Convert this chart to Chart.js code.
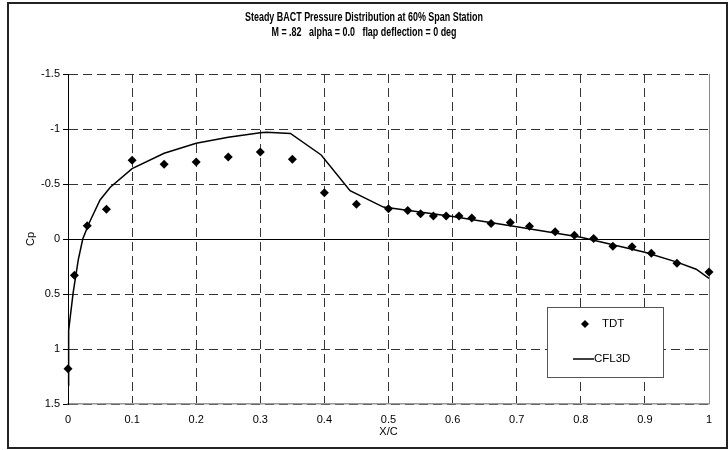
<!DOCTYPE html>
<html>
<head>
<meta charset="utf-8">
<script src="https://cdn.jsdelivr.net/npm/chart.js@4.4.1/dist/chart.umd.min.js"></script>
<style>
  html, body { margin: 0; padding: 0; background: #fff; }
  #wrap { position: relative; width: 728px; height: 450px; }
</style>
</head>
<body>
<div id="wrap"><canvas id="c" width="728" height="450"></canvas></div>
<script>
// ---- data ----
const titleLines = ['Steady BACT Pressure Distribution at 60% Span Station',
                    'M = .82   alpha = 0.0   flap deflection = 0 deg'];
const xAxisTitle = 'X/C';
const yAxisTitle = 'Cp';
const xTickLabels = ['0', '0.1', '0.2', '0.3', '0.4', '0.5', '0.6', '0.7', '0.8', '0.9', '1'];
const yTickLabels = ['-1.5', '-1', '-0.5', '0', '0.5', '1', '1.5'];

const tdtLabel = 'TDT';
const tdtX  = [0, 0.01, 0.03, 0.06, 0.10, 0.15, 0.20, 0.25, 0.30, 0.35, 0.40, 0.45, 0.50, 0.53, 0.55, 0.57, 0.59, 0.61, 0.63, 0.66, 0.69, 0.72, 0.76, 0.79, 0.82, 0.85, 0.88, 0.91, 0.95, 1.00];
const tdtCp = [1.18, 0.33, -0.12, -0.27, -0.715, -0.68, -0.70, -0.745, -0.79, -0.725, -0.42, -0.315, -0.275, -0.26, -0.23, -0.21, -0.21, -0.21, -0.19, -0.14, -0.15, -0.115, -0.065, -0.035, -0.005, 0.065, 0.07, 0.13, 0.22, 0.30];

const cflLabel = 'CFL3D';
const cflX  = [0, 0.001, 0.008, 0.016, 0.023, 0.033, 0.05, 0.066, 0.10, 0.15, 0.20, 0.25, 0.30, 0.31, 0.347, 0.395, 0.44, 0.492, 0.60, 0.70, 0.80, 0.90, 0.95, 0.98, 1.00];
const cflCp = [1.33, 0.83, 0.49, 0.19, 0.0, -0.145, -0.355, -0.47, -0.64, -0.78, -0.87, -0.925, -0.965, -0.97, -0.96, -0.764, -0.44, -0.29, -0.205, -0.112, -0.015, 0.12, 0.21, 0.275, 0.357];

// ---- build ----
const tdtPts = tdtX.map((x, i) => ({ x: x, y: tdtCp[i] }));
const cflPts = cflX.map((x, i) => ({ x: x, y: cflCp[i] }));

const FONT = "'Liberation Sans', Arial, sans-serif";

const frame = {
  id: 'frame',
  beforeDraw(chart) {
    const ctx = chart.ctx;
    ctx.save();
    ctx.fillStyle = '#fff';
    ctx.fillRect(0, 0, chart.width, chart.height);
    ctx.strokeStyle = '#222';
    ctx.lineWidth = 2;
    ctx.strokeRect(8, 3, 719, 445);
    ctx.restore();
  }
};

// condensed bold title (emulates the narrow face of the original)
const narrowTitle = {
  id: 'narrowTitle',
  afterDraw(chart) {
    const ctx = chart.ctx;
    const cx = chart.width / 2;
    ctx.save();
    ctx.fillStyle = '#000';
    ctx.font = 'bold 12px ' + FONT;
    ctx.textAlign = 'center';
    ctx.textBaseline = 'middle';
    titleLines.forEach((t, i) => {
      ctx.save();
      ctx.translate(cx, 17.5 + i * 15.5);
      ctx.scale(0.745, 1);
      ctx.fillText(t, 0, 0);
      ctx.restore();
    });
    ctx.restore();
  }
};

const zeroLine = {
  id: 'zeroLine',
  beforeDatasetsDraw(chart) {
    const ctx = chart.ctx, a = chart.chartArea;
    const y = Math.round(chart.scales.y.getPixelForValue(0)) + 0.5;
    const xr = Math.round(chart.scales.x.getPixelForValue(1)) + 0.5;
    ctx.save();
    ctx.strokeStyle = '#000';
    ctx.lineWidth = 1;
    ctx.beginPath();
    ctx.moveTo(a.left, y);
    ctx.lineTo(a.right, y);
    ctx.stroke();
    ctx.strokeStyle = '#8a8a8a';
    ctx.beginPath();
    ctx.moveTo(xr, a.top);
    ctx.lineTo(xr, a.bottom);
    ctx.stroke();
    ctx.restore();
  }
};

const legendBox = {
  id: 'legendBox',
  afterDraw(chart) {
    const ctx = chart.ctx;
    const bx = 547, by = 307, bw = 116, bh = 70;
    ctx.save();
    ctx.fillStyle = '#fff';
    ctx.fillRect(bx, by, bw, bh);
    ctx.strokeStyle = '#555';
    ctx.lineWidth = 1;
    ctx.strokeRect(bx + 0.5, by + 0.5, bw, bh);
    const dx = 585, dy = 324, r = 4;
    ctx.fillStyle = '#000';
    ctx.beginPath();
    ctx.moveTo(dx, dy - r); ctx.lineTo(dx + r, dy); ctx.lineTo(dx, dy + r); ctx.lineTo(dx - r, dy);
    ctx.closePath(); ctx.fill();
    ctx.strokeStyle = '#000';
    ctx.lineWidth = 1.5;
    ctx.beginPath(); ctx.moveTo(573, 359); ctx.lineTo(594, 359); ctx.stroke();
    ctx.font = '11.5px ' + FONT;
    ctx.textBaseline = 'middle';
    ctx.textAlign = 'left';
    ctx.fillText(chart.data.datasets[0].label, 602, 324);
    ctx.fillText(chart.data.datasets[1].label, 594, 359);
    ctx.restore();
  }
};

new Chart(document.getElementById('c'), {
  type: 'scatter',
  data: {
    datasets: [
      {
        label: tdtLabel,
        data: tdtPts,
        showLine: false,
        clip: false,
        pointStyle: 'rectRot',
        pointRadius: 4.5,
        pointBackgroundColor: '#000',
        pointBorderColor: '#000',
        pointBorderWidth: 0,
        order: 1
      },
      {
        label: cflLabel,
        data: cflPts,
        showLine: true,
        clip: false,
        borderColor: '#000',
        borderWidth: 1.5,
        pointRadius: 0,
        tension: 0,
        order: 2
      }
    ]
  },
  options: {
    responsive: false,
    animation: false,
    devicePixelRatio: 1,
    layout: { padding: { left: 0, right: 19, top: 74, bottom: 0 } },
    plugins: {
      legend: { display: false },
      tooltip: { enabled: false },
      title: { display: false }
    },
    scales: {
      x: {
        type: 'linear',
        min: 0, max: 1,
        afterFit(s) { s.height = 46; },
        afterBuildTicks(s) { s.ticks = xTickLabels.map(t => ({ value: parseFloat(t) })); },
        ticks: {
          color: '#000',
          font: { family: FONT, size: 11 },
          padding: 9,
          maxRotation: 0,
          autoSkip: false,
          callback: (v, i) => xTickLabels[i]
        },
        grid: { color: '#333', lineWidth: 1, drawTicks: false },
        border: { display: true, color: '#999', width: 1.5, dash: [9, 5] },
        title: { display: true, text: xAxisTitle, color: '#000', font: { family: FONT, size: 11 }, padding: { top: 0, bottom: 11 } }
      },
      y: {
        type: 'linear',
        reverse: true,
        min: -1.5, max: 1.5,
        afterFit(s) { s.width = 68; },
        afterBuildTicks(s) { s.ticks = yTickLabels.map(t => ({ value: parseFloat(t) })); },
        ticks: {
          color: '#000',
          font: { family: FONT, size: 11 },
          padding: 3,
          autoSkip: false,
          callback: (v, i) => yTickLabels[i]
        },
        grid: { color: '#333', lineWidth: 1, drawTicks: true, tickLength: 5, tickColor: '#000' },
        border: { display: true, color: '#000', width: 1, dash: [9, 5] },
        title: { display: true, text: yAxisTitle, color: '#000', font: { family: FONT, size: 11 }, padding: { top: 24, bottom: 0 } }
      }
    }
  },
  plugins: [frame, zeroLine, legendBox, narrowTitle]
});
</script>
</body>
</html>
